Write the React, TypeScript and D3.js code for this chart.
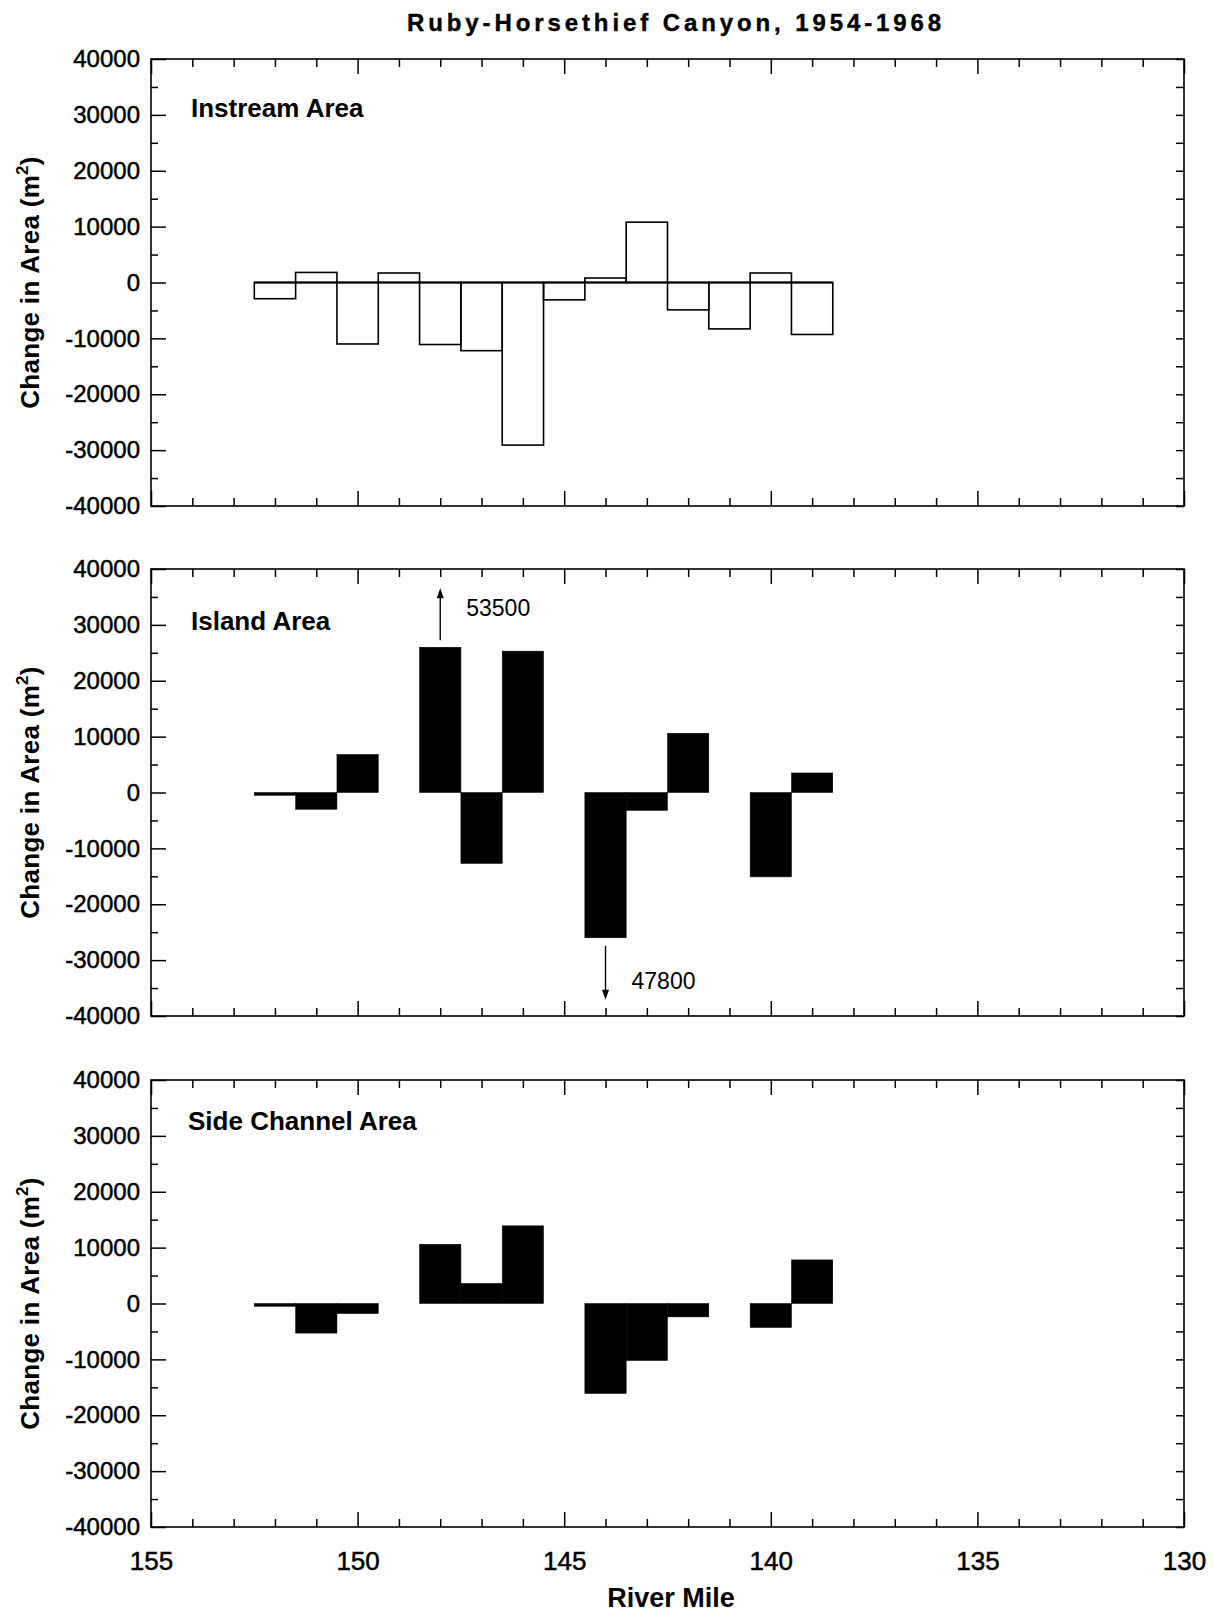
import React, { useEffect, useRef } from 'react'
import * as d3 from 'd3'

// river mile at the centre of each 1-mile bin
const miles = [152, 151, 150, 149, 148, 147, 146, 145, 144, 143, 142, 141, 140, 139];
const instream = [-2900, 1800, -11000, 1700, -11100, -12200, -29100, -3100, 800, 10800, -4900, -8300, 1700, -9300];
const island = [-500, -3000, 6800, null, 53500, -12700, 25300, null, -47800, -3200, 10600, null, -15100, 3500];
const sideChannel = [-500, -5300, -1800, null, 10600, 3600, 13900, null, -16100, -10200, -2400, null, -4300, 7800];

const yTickLabels = [40000, 30000, 20000, 10000, 0, -10000, -20000, -30000, -40000];
const yMinorTicks = [35000, 25000, 15000, 5000, -5000, -15000, -25000, -35000];
const xTickLabels = [155, 150, 145, 140, 135, 130];
const xMinorTicks = d3.range(131, 155).filter(d => d % 5 !== 0);

const FONT = '"Liberation Sans", Arial, Helvetica, sans-serif';

// clip: bars beyond this are cut short and get an arrow + the true value
const panels = [
  { name: 'Instream Area', values: instream, filled: false, clip: Infinity, top: 59, labelX: 191, labelDy: 58 },
  { name: 'Island Area', values: island, filled: true, clip: 26000, top: 569, labelX: 191, labelDy: 61 },
  { name: 'Side Channel Area', values: sideChannel, filled: true, clip: Infinity, top: 1080, labelX: 188, labelDy: 50 },
];

export default function App() {
  const ref = useRef<SVGSVGElement | null>(null);
  useEffect(() => {
    if (!ref.current) return;
    const svg = d3.select(ref.current);
    svg.selectAll('*').remove();
    const ph = 447;
    const x = d3.scaleLinear().domain([155, 130]).range([151, 1184]);

    svg.append('text').text('Ruby-Horsethief Canyon, 1954-1968')
      .attr('x', 676).attr('y', 31).attr('text-anchor', 'middle')
      .attr('font-family', FONT).attr('font-weight', 'bold').attr('font-size', 24)
      .attr('letter-spacing', 3.9).attr('stroke', '#000').attr('stroke-width', 0.4);

    panels.forEach((p, pi) => {
      const top = p.top, bottom = top + ph;
      const y = d3.scaleLinear().domain([-40000, 40000]).range([bottom, top]);
      const g = svg.append('g');

      const rows = miles.map((m, i) => ({ m, v: p.values[i] })).filter(d => d.v !== null && d.v !== undefined) as { m: number, v: number }[];
      const shown = (v: number) => Math.max(-p.clip, Math.min(p.clip, v));

      g.selectAll('rect.bar').data(rows).enter().append('rect')
        .attr('x', d => x(d.m + 0.5))
        .attr('width', d => x(d.m - 0.5) - x(d.m + 0.5))
        .attr('y', d => y(Math.max(0, shown(d.v))))
        .attr('height', d => Math.max(1.5, Math.abs(y(shown(d.v)) - y(0))))
        .attr('fill', p.filled ? '#000' : 'none')
        .attr('stroke', '#000').attr('stroke-width', p.filled ? 0.5 : 1.6);

      if (!p.filled) {
        g.append('line')
          .attr('x1', x(miles[0] + 0.5)).attr('x2', x(miles[miles.length - 1] - 0.5))
          .attr('y1', y(0)).attr('y2', y(0)).attr('stroke', '#000').attr('stroke-width', 2);
      }

      // arrows for clipped bars
      rows.filter(d => Math.abs(d.v) > p.clip).forEach(d => {
        const up = d.v > 0;
        const ax = x(d.m);
        const y0 = y(shown(d.v)) + (up ? -7 : 8);
        const y1 = y0 + (up ? -52 : 54);
        g.append('line').attr('x1', ax).attr('x2', ax).attr('y1', y0).attr('y2', up ? y1 + 8 : y1 - 8)
          .attr('stroke', '#000').attr('stroke-width', 1.4);
        const s = up ? 1 : -1;
        g.append('path').attr('d', `M${ax},${y1} L${ax - 3.5},${y1 + s * 10} L${ax + 3.5},${y1 + s * 10} Z`).attr('fill', '#000');
        g.append('text').text(String(Math.abs(d.v)))
          .attr('x', ax + 26).attr('y', up ? y1 + 28 : y1 - 11)
          .attr('font-family', FONT).attr('font-size', 23);
      });

      // frame
      g.append('rect').attr('x', 151).attr('y', top).attr('width', 1033).attr('height', ph)
        .attr('fill', 'none').attr('stroke', '#000').attr('stroke-width', 1.6);

      const style = (sel: any, size: number) => {
        sel.select('.domain').remove();
        sel.attr('font-family', FONT).attr('font-size', size);
        sel.selectAll('line').attr('stroke', '#000').attr('stroke-width', 1.5);
        sel.selectAll('text').attr('fill', '#000').attr('stroke', '#000').attr('stroke-width', 0.5);
      };

      g.append('g').attr('transform', `translate(0,${bottom})`)
        .call(d3.axisBottom(x).tickValues(xTickLabels).tickSize(-15).tickPadding(25)
          .tickFormat(pi === panels.length - 1 ? (d: any) => String(d) : () => ''))
        .call((s: any) => style(s, 26));
      g.append('g').attr('transform', `translate(0,${bottom})`)
        .call(d3.axisBottom(x).tickValues(xMinorTicks).tickSize(-8).tickFormat(() => ''))
        .call((s: any) => style(s, 10));
      g.append('g').attr('transform', `translate(0,${top})`)
        .call(d3.axisTop(x).tickValues(xTickLabels).tickSize(-15).tickFormat(() => ''))
        .call((s: any) => style(s, 10));
      g.append('g').attr('transform', `translate(0,${top})`)
        .call(d3.axisTop(x).tickValues(xMinorTicks).tickSize(-8).tickFormat(() => ''))
        .call((s: any) => style(s, 10));

      g.append('g').attr('transform', `translate(151,0)`)
        .call(d3.axisLeft(y).tickValues(yTickLabels).tickSize(-15).tickPadding(11).tickFormat((d: any) => String(d)))
        .call((s: any) => style(s, 24));
      g.append('g').attr('transform', `translate(151,0)`)
        .call(d3.axisLeft(y).tickValues(yMinorTicks).tickSize(-7).tickFormat(() => ''))
        .call((s: any) => style(s, 10));
      g.append('g').attr('transform', `translate(1184,0)`)
        .call(d3.axisRight(y).tickValues(yTickLabels.concat(yMinorTicks)).tickSize(-8).tickFormat(() => ''))
        .call((s: any) => style(s, 10));

      // panel label
      g.append('text').text(p.name).attr('x', p.labelX).attr('y', top + p.labelDy)
        .attr('font-family', FONT).attr('font-weight', 'bold').attr('font-size', 26);

      // y axis title
      const yl = g.append('text').attr('transform', `translate(39,${top + ph / 2}) rotate(-90)`)
        .attr('text-anchor', 'middle').attr('font-family', FONT).attr('font-weight', 'bold').attr('font-size', 26)
        .attr('letter-spacing', 0.3);
      yl.append('tspan').text('Change in Area (m');
      yl.append('tspan').text('2').attr('font-size', 17).attr('dy', -11);
      yl.append('tspan').text(')').attr('dy', 11);
    });

    svg.append('text').text('River Mile').attr('x', 671).attr('y', 1607).attr('text-anchor', 'middle')
      .attr('font-family', FONT).attr('font-weight', 'bold').attr('font-size', 27);
  }, []);
  return <svg ref={ref} width={1213} height={1614} style={{ position: 'absolute', left: 0, top: 0, background: '#fff' }} />;
}
